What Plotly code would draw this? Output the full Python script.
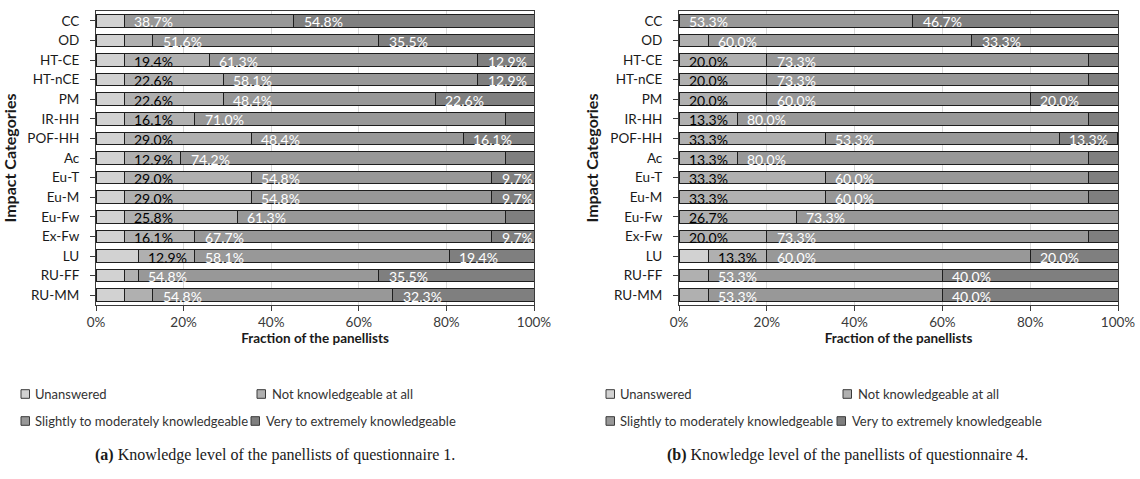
import plotly.graph_objects as go

# ---------------------------------------------------------------- data
categories = ["CC", "OD", "HT-CE", "HT-nCE", "PM", "IR-HH", "POF-HH", "Ac",
              "Eu-T", "Eu-M", "Eu-Fw", "Ex-Fw", "LU", "RU-FF", "RU-MM"]
series_names = ["Unanswered", "Not knowledgeable at all",
                "Slightly to moderately knowledgeable",
                "Very to extremely knowledgeable"]

# Questionnaire 1 (% of panellists)
q1_unanswered = [6.5, 6.5, 6.5, 6.5, 6.5, 6.5, 6.5, 6.5, 6.5, 6.5, 6.5, 6.5, 9.7, 6.5, 6.5]
q1_not = [0.0, 6.5, 19.4, 22.6, 22.6, 16.1, 29.0, 12.9, 29.0, 29.0, 25.8, 16.1, 12.9, 3.2, 6.5]
q1_slightly = [38.7, 51.6, 61.3, 58.1, 48.4, 71.0, 48.4, 74.2, 54.8, 54.8, 61.3, 67.7, 58.1, 54.8, 54.8]
q1_very = [54.8, 35.5, 12.9, 12.9, 22.6, 6.5, 16.1, 6.5, 9.7, 9.7, 6.5, 9.7, 19.4, 35.5, 32.3]

# Questionnaire 4 (% of panellists)
q4_unanswered = [0.0, 0.0, 0.0, 0.0, 0.0, 0.0, 0.0, 0.0, 0.0, 0.0, 0.0, 0.0, 6.7, 0.0, 0.0]
q4_not = [0.0, 6.7, 20.0, 20.0, 20.0, 13.3, 33.3, 13.3, 33.3, 33.3, 26.7, 20.0, 13.3, 6.7, 6.7]
q4_slightly = [53.3, 60.0, 73.3, 73.3, 60.0, 80.0, 53.3, 80.0, 60.0, 60.0, 73.3, 73.3, 60.0, 53.3, 53.3]
q4_very = [46.7, 33.3, 6.7, 6.7, 20.0, 6.7, 13.3, 6.7, 6.7, 6.7, 0.0, 6.7, 20.0, 40.0, 40.0]

x_tick_values = [0, 20, 40, 60, 80, 100]
x_tick_labels = ["0%", "20%", "40%", "60%", "80%", "100%"]
captions = ["<b>(a)</b> Knowledge level of the panellists of questionnaire 1.",
            "<b>(b)</b> Knowledge level of the panellists of questionnaire 4."]

# ---------------------------------------------------------------- style
W, H = 1140, 479
FONT = "Lato"
colors = ["#d2d2d2", "#b0b0b0", "#989898", "#7f7f7f"]
label_colors = [None, "#000000", "#ffffff", "#ffffff"]
MIN_LABELLED = 9.0          # segments narrower than this carry no label


def fx(px):
    return px / W


def fy(py):
    return 1 - py / H


panels = [
    dict(series=[q1_unanswered, q1_not, q1_slightly, q1_very],
         dom=(96, 534), xa="x", ya="y", caption_x=275,
         legend=[[(21, 33), (257, 270)], [(21, 33), (251, 264)]]),
    dict(series=[q4_unanswered, q4_not, q4_slightly, q4_very],
         dom=(679, 1118), xa="x2", ya="y2", caption_x=847,
         legend=[[(606, 618), (843, 856)], [(606, 618), (837, 850)]]),
]
plot_top, plot_bottom = 11, 305
legend_rows_y = [394, 421]
caption_y = 455

fig = go.Figure()
annotations = []
shapes = []

for p in panels:
    cum = [0.0] * len(categories)
    for k, (name, vals) in enumerate(zip(series_names, p["series"])):
        fig.add_trace(go.Bar(
            orientation="h", y=categories, x=vals, name=name,
            xaxis=p["xa"], yaxis=p["ya"], showlegend=False,
            marker=dict(color=colors[k], line=dict(color="#1e1e1e", width=1)),
        ))
        # value labels anchored at the start of each segment
        if label_colors[k] is not None:
            for cat, start, v in zip(categories, cum, vals):
                if v >= MIN_LABELLED:
                    annotations.append(dict(
                        x=start, y=cat, xref=p["xa"], yref=p["ya"],
                        text=f"{v:.1f}%", showarrow=False,
                        xanchor="left", yanchor="middle", xshift=8, yshift=-1,
                        font=dict(family=FONT, size=14, color=label_colors[k]),
                    ))
        cum = [c + v for c, v in zip(cum, vals)]

    # legend (two rows of two entries)
    for k, name in enumerate(series_names):
        r, c = divmod(k, 2)
        mx, tx = p["legend"][r][c]
        cy = legend_rows_y[r]
        shapes.append(dict(type="rect", xref="paper", yref="paper",
                           x0=fx(mx), x1=fx(mx + 8.5), y0=fy(cy + 4.3), y1=fy(cy - 4.3),
                           fillcolor=colors[k], line=dict(color="#3a3a3a", width=1)))
        annotations.append(dict(x=fx(tx), y=fy(cy), xref="paper", yref="paper",
                                text=name, showarrow=False, xanchor="left", yanchor="middle",
                                font=dict(family=FONT, size=13, color="#333333")))

for p, cap in zip(panels, captions):
    annotations.append(dict(x=fx(p["caption_x"]), y=fy(caption_y), xref="paper", yref="paper",
                            text=cap, showarrow=False, xanchor="center", yanchor="middle",
                            font=dict(family="Liberation Serif", size=16, color="#1a1a1a")))

xaxis_style = dict(
    range=[0, 100], tickvals=x_tick_values, ticktext=x_tick_labels,
    showgrid=True, gridcolor="#d9d9d9", gridwidth=1, zeroline=False,
    showline=True, mirror=True, linecolor="#3a3a3a", linewidth=1,
    ticks="outside", ticklen=5, tickcolor="#3a3a3a",
    tickfont=dict(family=FONT, size=13.5, color="#3a3a3a"),
    title=dict(text="<b>Fraction of the panellists</b>", standoff=1,
               font=dict(family=FONT, size=13.5, color="#1a1a1a")),
    automargin=False, fixedrange=True,
)
yaxis_style = dict(
    type="category", categoryorder="array", categoryarray=categories,
    range=[len(categories) - 0.5, -0.5],
    showgrid=False, zeroline=False,
    showline=True, mirror=True, linecolor="#3a3a3a", linewidth=1,
    ticks="outside", ticklen=5, tickcolor="#3a3a3a", ticklabelstandoff=8,
    tickfont=dict(family=FONT, size=13.5, color="#1a1a1a"),
    title=dict(text="<b>Impact Categories</b>", standoff=7,
               font=dict(family=FONT, size=16, color="#1a1a1a")),
    automargin=False, fixedrange=True,
)

ydom = [fy(plot_bottom), fy(plot_top)]
fig.update_layout(
    width=W, height=H,
    margin=dict(l=0, r=0, t=0, b=0),
    paper_bgcolor="white", plot_bgcolor="white",
    barmode="stack", bargap=0.35,
    font=dict(family=FONT, size=13, color="#1a1a1a"),
    xaxis=dict(domain=[fx(panels[0]["dom"][0]), fx(panels[0]["dom"][1])], anchor="y", **xaxis_style),
    yaxis=dict(domain=ydom, anchor="x", **yaxis_style),
    xaxis2=dict(domain=[fx(panels[1]["dom"][0]), fx(panels[1]["dom"][1])], anchor="y2", **xaxis_style),
    yaxis2=dict(domain=ydom, anchor="x2", **yaxis_style),
    annotations=annotations, shapes=shapes,
)

fig.write_html("out.html", config={"displayModeBar": False})
